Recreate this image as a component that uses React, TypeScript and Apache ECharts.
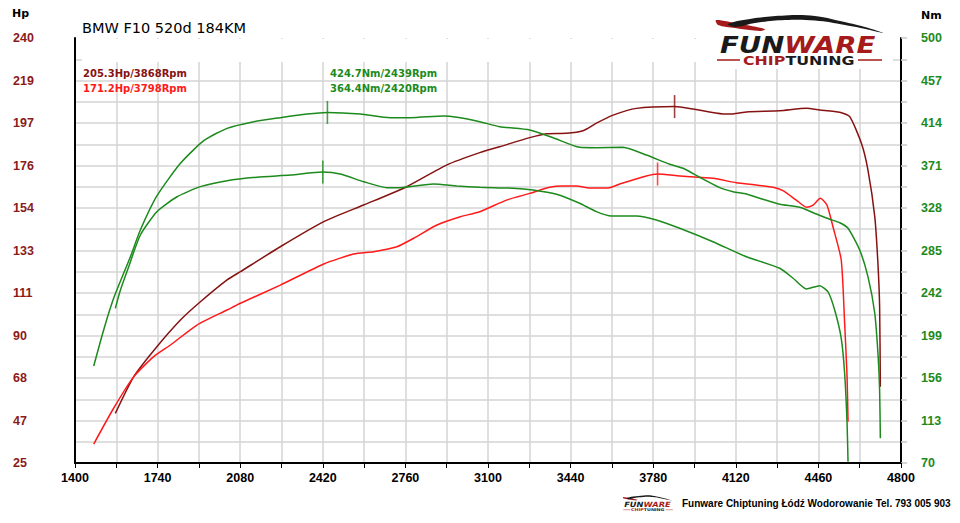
import React, { useEffect, useRef } from 'react';
import * as echarts from 'echarts';

// ---- axis ranges ----
const RPM_MIN = 1400;
const RPM_MAX = 4800;
const RPM_STEP = 170;
const HP_MIN = 25;
const HP_MAX = 240;
const NM_MIN = 70;
const NM_MAX = 500;
const GRID_DIVS = 20;

// ---- tick labels ----
const rpmTickLabels = ['1400', '1740', '2080', '2420', '2760', '3100', '3440', '3780', '4120', '4460', '4800'];
const hpTickLabels = ['25', '47', '68', '90', '111', '133', '154', '176', '197', '219', '240'];
const nmTickLabels = ['70', '113', '156', '199', '242', '285', '328', '371', '414', '457', '500'];

// ---- tuned power (Hp) ----
const tunedHpRpm = [1566, 1642, 1737, 1834, 1909, 2026, 2081, 2245, 2424, 2588, 2753, 2931, 3066, 3148, 3272, 3340, 3423, 3491, 3546, 3615, 3711, 3868, 3944, 4067, 4108, 4164, 4301, 4411, 4465, 4548, 4589, 4637, 4664, 4692, 4705, 4712, 4715];
const tunedHp = [50.1, 68.7, 83.8, 97.3, 105.8, 117.6, 121.8, 134.4, 147.1, 155.5, 164.0, 175.8, 182.0, 185.0, 189.6, 191.6, 191.8, 193.1, 196.9, 201.0, 204.4, 205.3, 204.1, 201.6, 201.6, 202.6, 203.2, 204.4, 203.6, 202.4, 200.2, 186.7, 173.2, 149.6, 126.0, 104.1, 63.6];

// ---- stock power (Hp) ----
const stockHpRpm = [1477, 1559, 1642, 1724, 1793, 1902, 2026, 2081, 2245, 2424, 2547, 2630, 2725, 2794, 2890, 2986, 3066, 3176, 3272, 3354, 3409, 3464, 3519, 3601, 3642, 3752, 3798, 3889, 4026, 4122, 4205, 4273, 4314, 4369, 4411, 4438, 4468, 4495, 4520, 4554, 4568, 4578, 4582];
const stockHp = [34.6, 52.7, 68.7, 78.8, 84.7, 94.8, 102.4, 105.8, 115.0, 125.7, 130.7, 131.9, 134.4, 138.7, 145.4, 149.6, 152.1, 158.0, 161.4, 164.5, 165.1, 165.1, 164.1, 164.3, 166.1, 170.2, 171.2, 170.2, 169.0, 166.8, 165.6, 164.5, 162.8, 158.0, 154.4, 155.5, 158.9, 155.5, 144.5, 127.7, 95.7, 68.7, 45.9];

// ---- tuned torque (Nm) ----
const tunedNmRpm = [1477, 1518, 1559, 1628, 1669, 1737, 1834, 1930, 2026, 2136, 2245, 2355, 2439, 2575, 2698, 2781, 2918, 2972, 3066, 3148, 3272, 3368, 3477, 3546, 3655, 3752, 3848, 3903, 3971, 4054, 4109, 4164, 4232, 4301, 4383, 4452, 4507, 4548, 4582, 4630, 4664, 4692, 4706, 4712, 4715];
const tunedNm = [168.1, 204.6, 236.6, 278.7, 305.7, 340.2, 373.2, 396.1, 408.6, 415.3, 419.4, 423.1, 424.7, 423.1, 419.4, 419.4, 421.1, 419.8, 415.3, 410.3, 406.9, 399.1, 389.4, 389.0, 389.4, 381.6, 372.2, 368.2, 359.1, 348.6, 344.5, 342.2, 336.8, 331.8, 328.7, 321.9, 316.6, 313.1, 307.5, 285.5, 258.5, 221.5, 177.6, 143.9, 95.0];

// ---- stock torque (Nm) ----
const stockNmRpm = [1566, 1587, 1621, 1669, 1737, 1820, 1916, 2026, 2149, 2287, 2420, 2492, 2588, 2684, 2739, 2876, 2972, 3066, 3203, 3285, 3382, 3477, 3546, 3608, 3711, 3793, 3889, 4026, 4164, 4301, 4356, 4411, 4465, 4499, 4527, 4554, 4568, 4578, 4582];
const stockNm = [226.5, 245.0, 268.6, 300.7, 324.3, 339.4, 349.6, 355.6, 359.1, 361.4, 364.4, 362.4, 354.6, 348.6, 348.6, 352.3, 350.3, 349.0, 348.0, 346.2, 341.9, 332.8, 324.3, 319.9, 319.9, 315.9, 307.5, 293.9, 278.7, 267.0, 256.9, 246.1, 249.4, 243.3, 224.8, 196.2, 160.8, 110.2, 71.3];

// ---- peaks ----
const peakRpm = [3868, 3798, 2439, 2420];
const peakVal = [205.3, 171.2, 424.7, 364.4];
const peakUnit = ['Hp', 'Hp', 'Nm', 'Nm'];

const TITLE = 'BMW F10 520d 184KM';
const FOOTER = 'Funware Chiptuning Łódź Wodorowanie Tel. 793 005 903';

const C_DARK = '#861212';
const C_RED = '#ff1a1a';
const C_GREEN = '#1c8a1c';
const C_GRID = '#d4d4d4';
const FONT_AX = '"Liberation Sans", Arial, sans-serif';
const FONT_TX = '"DejaVu Sans", Verdana, sans-serif';

function pts(rpms: number[], vals: number[], off: number) {
  return rpms.map((r, i) => [r - RPM_MIN, vals[i] - off]);
}

function logoChildren(z: number) {
  return [
    {
      type: 'polygon',
      z,
      shape: { points: [[0, 6], [24, 10], [49, 15], [44, 17], [19, 14], [2, 11]], smooth: 0.3 },
      style: { fill: '#a51a1a' },
    },
    {
      type: 'polygon',
      z,
      shape: {
        points: [[12, 10], [34, 5], [69, 1.5], [99, 2], [124, 7], [149, 13], [167, 19], [154, 16], [129, 11], [99, 6.5], [69, 6], [39, 9], [19, 13]],
        smooth: 0.4,
      },
      style: { fill: '#1a1a1a' },
    },
    {
      type: 'text',
      z,
      x: 4,
      y: 31,
      scaleX: 1.2,
      style: {
        text: '{a|FUN}{b|WARE}',
        verticalAlign: 'middle',
        rich: {
          a: { fill: '#1a1a1a', fontSize: 23, fontWeight: 'bold', fontStyle: 'italic', fontFamily: FONT_TX },
          b: { fill: '#a51a1a', fontSize: 23, fontWeight: 'bold', fontStyle: 'italic', fontFamily: FONT_TX },
        },
      },
    },
    {
      type: 'text',
      z,
      x: 27,
      y: 47,
      scaleX: 1.32,
      style: {
        text: '{b|CHIP}{a|TUNING}',
        verticalAlign: 'middle',
        rich: {
          a: { fill: '#1a1a1a', fontSize: 12, fontWeight: 'bold', fontFamily: FONT_TX },
          b: { fill: '#a51a1a', fontSize: 12, fontWeight: 'bold', fontFamily: FONT_TX },
        },
      },
    },
    { type: 'line', z, shape: { x1: 1, y1: 46, x2: 24, y2: 46 }, style: { stroke: '#a51a1a', lineWidth: 1.5 } },
    { type: 'line', z, shape: { x1: 142, y1: 46, x2: 166, y2: 46 }, style: { stroke: '#a51a1a', lineWidth: 1.5 } },
  ];
}

export default function App() {
  const ref = useRef<HTMLDivElement>(null);

  useEffect(() => {
    if (!ref.current) return;
    const chart = echarts.init(ref.current, null, { renderer: 'svg' });

    const hpStep = (HP_MAX - HP_MIN) / GRID_DIVS;
    const nmStep = (NM_MAX - NM_MIN) / GRID_DIVS;

    const lineSeries = (name: string, data: number[][], color: string, yi: number) => ({
      name,
      type: 'line',
      yAxisIndex: yi,
      data,
      smooth: 0.2,
      showSymbol: false,
      symbol: 'none',
      lineStyle: { color, width: 1.5 },
      z: 3,
    });

    const markerColors = [C_DARK, C_RED, C_GREEN, C_GREEN];
    const markerSeries = peakRpm.map((r, i) => ({
      type: 'scatter',
      yAxisIndex: peakUnit[i] === 'Hp' ? 0 : 1,
      data: [[r - RPM_MIN, peakVal[i] - (peakUnit[i] === 'Hp' ? HP_MIN : NM_MIN)]],
      symbol: 'rect',
      symbolSize: [1.6, 23],
      itemStyle: { color: markerColors[i] },
      silent: true,
      z: 4,
    }));

    const annoPos = [
      [83, 73],
      [83, 88],
      [330, 73],
      [330, 88],
    ];
    const annoColors = [C_DARK, C_RED, C_GREEN, C_GREEN];
    const annotations = peakRpm.map((r, i) => ({
      type: 'text',
      x: annoPos[i][0],
      y: annoPos[i][1],
      z: 5,
      style: {
        text: `${peakVal[i].toFixed(1)}${peakUnit[i]}/${r}Rpm`,
        fill: annoColors[i],
        fontSize: 10,
        fontWeight: 'bold',
        fontFamily: FONT_TX,
        verticalAlign: 'middle',
      },
    }));

    const option: any = {
      animation: false,
      backgroundColor: '#ffffff',
      grid: { left: 75, right: 59, top: 38, bottom: 60, containLabel: false },
      xAxis: {
        type: 'value',
        min: 0,
        max: RPM_MAX - RPM_MIN,
        interval: RPM_STEP,
        axisLine: { show: true, onZero: false, lineStyle: { color: '#000', width: 2 } },
        axisTick: { show: true, length: 5, lineStyle: { color: '#000', width: 1 } },
        axisLabel: {
          formatter: (v: number) => {
            const k = Math.round(v / RPM_STEP);
            return k % 2 === 0 ? rpmTickLabels[k / 2] : '';
          },
          color: '#000',
          fontFamily: FONT_AX,
          fontWeight: 'bold',
          fontSize: 12.5,
          margin: 8,
        },
        splitLine: { show: true, showMinLine: false, showMaxLine: false, lineStyle: { color: C_GRID, width: 1.5 } },
      },
      yAxis: [
        {
          type: 'value',
          position: 'left',
          min: 0,
          max: HP_MAX - HP_MIN,
          interval: hpStep,
          axisLine: { show: true, lineStyle: { color: '#000', width: 2 } },
          axisTick: { show: false },
          axisLabel: {
            formatter: (v: number) => {
              const k = Math.round(v / hpStep);
              return k % 2 === 0 ? hpTickLabels[k / 2] : '';
            },
            color: '#8b1a1a',
            fontFamily: FONT_AX,
            fontWeight: 'bold',
            fontSize: 12.5,
            align: 'left',
            margin: 62,
          },
          splitLine: { show: true, showMinLine: false, showMaxLine: false, lineStyle: { color: C_GRID, width: 1.5 } },
        },
        {
          type: 'value',
          position: 'right',
          min: 0,
          max: NM_MAX - NM_MIN,
          interval: nmStep,
          axisLine: { show: true, lineStyle: { color: '#000', width: 2 } },
          axisTick: { show: true, length: 6, lineStyle: { color: '#c8c8c8', width: 1.5 } },
          axisLabel: {
            formatter: (v: number) => {
              const k = Math.round(v / nmStep);
              return k % 2 === 0 ? nmTickLabels[k / 2] : '';
            },
            color: C_GREEN,
            fontFamily: FONT_AX,
            fontWeight: 'bold',
            fontSize: 12.5,
            align: 'left',
            margin: 20,
          },
          splitLine: { show: false },
        },
      ],
      series: [
        lineSeries('tunedHp', pts(tunedHpRpm, tunedHp, HP_MIN), C_DARK, 0),
        lineSeries('stockHp', pts(stockHpRpm, stockHp, HP_MIN), C_RED, 0),
        lineSeries('tunedNm', pts(tunedNmRpm, tunedNm, NM_MIN), C_GREEN, 1),
        lineSeries('stockNm', pts(stockNmRpm, stockNm, NM_MIN), C_GREEN, 1),
        ...markerSeries,
      ],
      graphic: [
        { type: 'rect', z: 1, silent: true, shape: { x: 82, y: 39, width: 811, height: 23 }, style: { fill: '#fff' } },
        { type: 'rect', z: 1, silent: true, shape: { x: 700, y: 39, width: 186, height: 30 }, style: { fill: '#fff' } },
        {
          type: 'text', x: 82, y: 28, z: 5,
          style: { text: TITLE, fill: '#000', fontSize: 14.5, fontFamily: FONT_TX, verticalAlign: 'middle' },
        },
        {
          type: 'text', x: 12, y: 13, z: 5,
          style: { text: 'Hp', fill: '#000', fontSize: 11, fontWeight: 'bold', fontFamily: FONT_TX, verticalAlign: 'middle' },
        },
        {
          type: 'text', x: 921, y: 15, z: 5,
          style: { text: 'Nm', fill: '#000', fontSize: 11, fontWeight: 'bold', fontFamily: FONT_TX, verticalAlign: 'middle' },
        },
        ...annotations,
        { type: 'group', x: 716, y: 14, z: 5, children: logoChildren(6) },
        { type: 'group', x: 623, y: 495, scaleX: 0.3, scaleY: 0.32, z: 5, children: logoChildren(6) },
        {
          type: 'text', x: 682, y: 503, z: 5,
          style: { text: FOOTER, fill: '#000', fontSize: 10, fontWeight: 'bold', fontFamily: FONT_AX, verticalAlign: 'middle' },
        },
      ],
    };

    chart.setOption(option);
    return () => {
      chart.dispose();
    };
  }, []);

  return (
    <div
      ref={ref}
      style={{ position: 'absolute', left: 0, top: 0, width: 960, height: 523, background: '#fff' }}
    />
  );
}
